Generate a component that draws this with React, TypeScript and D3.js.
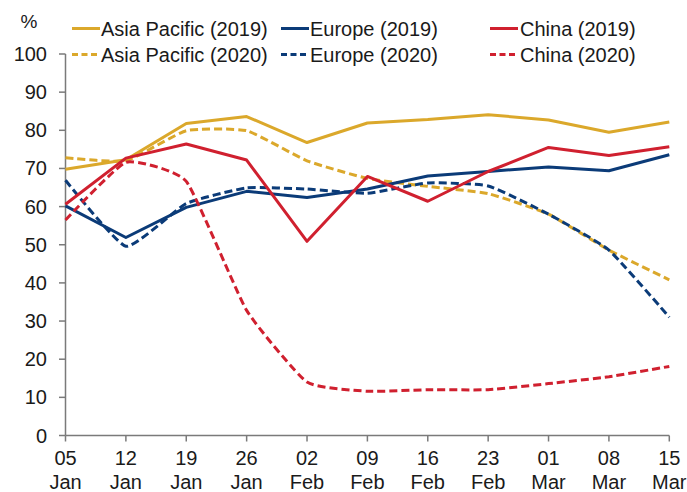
import React from "react";
import * as d3 from "d3";

const dayLabels = ["05", "12", "19", "26", "02", "09", "16", "23", "01", "08", "15"];
const monthLabels = ["Jan", "Jan", "Jan", "Jan", "Feb", "Feb", "Feb", "Feb", "Mar", "Mar", "Mar"];
const yTicks = [0, 10, 20, 30, 40, 50, 60, 70, 80, 90, 100];

const asiaPacific2019 = [69.8, 72.3, 81.8, 83.6, 76.8, 81.9, 82.8, 84.1, 82.7, 79.5, 82.2];
const asiaPacific2020 = [72.8, 72.0, 79.9, 79.9, 72.0, 67.4, 65.3, 63.4, 58.0, 48.6, 40.8];
const europe2019 = [60.2, 51.9, 59.8, 64.0, 62.4, 64.6, 68.0, 69.2, 70.4, 69.4, 73.6];
const europe2020 = [66.9, 49.6, 60.8, 64.9, 64.6, 63.5, 66.2, 65.4, 58.0, 48.6, 31.0];
const china2019 = [60.6, 72.7, 76.4, 72.2, 50.9, 67.9, 61.4, 69.2, 75.5, 73.4, 75.7];
const china2020 = [56.5, 71.6, 66.6, 32.8, 14.0, 11.6, 12.0, 12.0, 13.6, 15.4, 18.1];

const seriesNames = [
  "Asia Pacific (2019)", "Europe (2019)", "China (2019)",
  "Asia Pacific (2020)", "Europe (2020)", "China (2020)",
];

const YELLOW = "#DBA82B";
const BLUE = "#0B3B78";
const RED = "#D0202F";

export default function App() {
  const W = 687, H = 492;
  const x0 = 65.5, x1 = 669.3, yBottom = 435.5, yTop = 54;
  const idx = dayLabels.map((_, i) => i);
  const x = d3.scalePoint<number>().domain(idx).range([x0, x1]);
  const y = d3.scaleLinear().domain([0, 100]).range([yBottom, yTop]);

  const straight = d3.line<number>().x((_, i) => x(i)!).y((d) => y(d));
  const smooth = d3.line<number>().x((_, i) => x(i)!).y((d) => y(d)).curve(d3.curveCardinal.tension(0.55));

  const series = [
    { name: seriesNames[0], data: asiaPacific2019, color: YELLOW, dashed: false },
    { name: seriesNames[1], data: europe2019, color: BLUE, dashed: false },
    { name: seriesNames[2], data: china2019, color: RED, dashed: false },
    { name: seriesNames[3], data: asiaPacific2020, color: YELLOW, dashed: true },
    { name: seriesNames[4], data: europe2020, color: BLUE, dashed: true },
    { name: seriesNames[5], data: china2020, color: RED, dashed: true },
  ];

  const drawOrder = [3, 4, 0, 1, 2, 5];
  const legendCols = [
    { lineX: 72, textX: 101 },
    { lineX: 281, textX: 310 },
    { lineX: 490, textX: 520 },
  ];
  const legendRows = [28.5, 54.5];
  const font = "'Liberation Sans', Arial, sans-serif";
  const axisColor = "#7a7a7a";

  return (
    <svg width={W} height={H} style={{ position: "absolute", left: 0, top: 0, background: "#fff" }} fontFamily={font}>
      <text x={29} y={28} fontSize={19} textAnchor="middle" fill="#1a1a1a">%</text>

      {series.map((s, i) => {
        const col = legendCols[i % 3];
        const row = legendRows[Math.floor(i / 3)];
        return (
          <g key={s.name}>
            <line x1={col.lineX} x2={col.lineX + 28} y1={row} y2={row} stroke={s.color} strokeWidth={3}
              strokeDasharray={s.dashed ? "6,3.5" : undefined} />
            <text x={col.textX} y={row + 7} fontSize={20} fill="#1a1a1a">{s.name}</text>
          </g>
        );
      })}

      {/* y axis */}
      <line x1={x0} x2={x0} y1={yTop} y2={yBottom} stroke={axisColor} strokeWidth={1.5} />
      {yTicks.map((t) => (
        <g key={t}>
          <line x1={x0 - 6.5} x2={x0} y1={y(t)} y2={y(t)} stroke={axisColor} strokeWidth={1.5} />
          <text x={47} y={y(t) + 7} fontSize={20} textAnchor="end" fill="#1a1a1a">{t}</text>
        </g>
      ))}

      {/* x axis */}
      <line x1={x0} x2={x1} y1={yBottom} y2={yBottom} stroke={axisColor} strokeWidth={1.5} />
      {idx.map((i) => (
        <g key={i}>
          <line x1={x(i)!} x2={x(i)!} y1={yBottom} y2={yBottom + 6} stroke={axisColor} strokeWidth={1.5} />
          <text x={x(i)!} y={465} fontSize={20} textAnchor="middle" fill="#1a1a1a">{dayLabels[i]}</text>
          <text x={x(i)!} y={489} fontSize={20} textAnchor="middle" fill="#1a1a1a">{monthLabels[i]}</text>
        </g>
      ))}

      {drawOrder.map((k) => {
        const s = series[k];
        return (
          <path key={s.name} d={(s.dashed ? smooth : straight)(s.data) || ""} fill="none" stroke={s.color}
            strokeWidth={3} strokeDasharray={s.dashed ? "8,4" : undefined} strokeLinejoin="round" />
        );
      })}
    </svg>
  );
}
